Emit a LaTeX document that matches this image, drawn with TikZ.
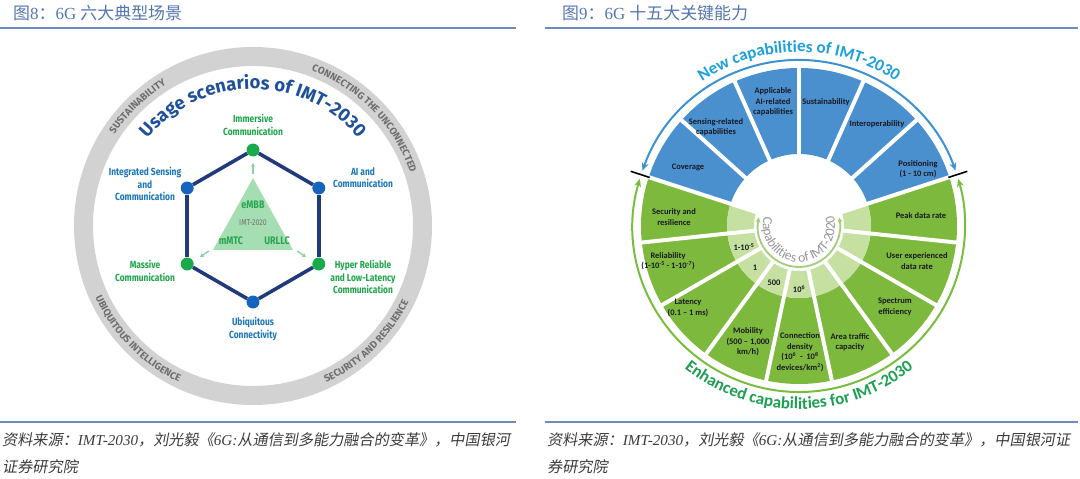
\documentclass[tikz,border=0pt]{standalone}
\usepackage{fontspec}
\setmainfont{Liberation Serif}
\newfontfamily\cjk{Noto Sans CJK SC}
\newfontfamily\cjkit{Noto Sans CJK SC}[FakeSlant=0.18]
\newfontfamily\calib{Carlito}
\newfontfamily\fira{Fira Sans}
\newfontfamily\firac{Fira Sans}[FakeStretch=0.82]
\usetikzlibrary{decorations.text,arrows.meta}
\definecolor{hdr}{RGB}{84,118,176}
\definecolor{rulec}{RGB}{110,138,190}
\definecolor{capc}{RGB}{60,60,60}
\definecolor{ringg}{RGB}{210,210,210}
\definecolor{ringt}{RGB}{110,110,110}
\definecolor{ttlblue}{RGB}{30,80,155}
\definecolor{lblue}{RGB}{27,117,188}
\definecolor{lgreen}{RGB}{30,165,75}
\definecolor{hexc}{RGB}{33,58,122}
\definecolor{dotg}{RGB}{25,170,75}
\definecolor{dotb}{RGB}{22,100,190}
\definecolor{trif}{RGB}{165,222,178}
\definecolor{trit}{RGB}{40,165,80}
\definecolor{triarr}{RGB}{140,210,160}
\definecolor{segb}{RGB}{74,144,206}
\definecolor{segg}{RGB}{125,185,60}
\definecolor{segl}{RGB}{197,224,160}
\definecolor{arcb}{RGB}{60,145,210}
\definecolor{arcg}{RGB}{120,190,60}
\definecolor{newc}{RGB}{28,160,222}
\definecolor{enhc}{RGB}{28,160,80}
\definecolor{innarc}{RGB}{165,205,120}
\definecolor{inntxt}{RGB}{150,150,150}
\definecolor{segtxt}{RGB}{25,25,35}
\newcommand\ringfnt{\fira\bfseries\fontsize{10}{12}\selectfont}
\newcommand\ttlfnt{\fira\bfseries\fontsize{18.5}{20}\selectfont}
\newcommand\bigarcfnt{\calib\bfseries\fontsize{17}{19}\selectfont}
\newcommand\innfnt{\calib\fontsize{13.5}{15}\selectfont}
\tikzset{
  hdrtxt/.style={font=\fontsize{17}{19}\selectfont, text=hdr, inner sep=0, anchor=west},
  captxt/.style={font=\fontsize{15.2}{17}\selectfont, text=capc, inner sep=0, anchor=west},
  rulel/.style={rulec, line width=2},
  lbl/.style={font=\firac\bfseries\fontsize{10.3}{12.2}\selectfont, align=center, inner sep=0},
  tritxt/.style={font=\firac\bfseries\fontsize{11}{12}\selectfont, text=trit, inner sep=0},
  seglbl/.style={font=\calib\bfseries\fontsize{8.5}{10.5}\selectfont, text=segtxt, align=center, inner sep=0},
  dotnode/.style={circle, minimum size=13, inner sep=0},
  hexline/.style={hexc, line width=3.6},
  triarrow/.style={triarr, line width=1.4, -{Triangle[length=3.5,width=4]}},
}
\begin{document}
\begin{tikzpicture}[x=1bp,y=1bp]
\fill[white] (0,0) rectangle (1080,479);
\useasboundingbox (0,0) rectangle (1080,479);
% headers and rules
\node[hdrtxt] (h1) at (13,466) {{\cjk 图}8{\cjk ：}6G {\cjk 六大典型场景}};
\node[hdrtxt] (h2) at (562,466) {{\cjk 图}9{\cjk ：}6G {\cjk 十五大关键能力}};
\draw[rulel] (0,451) -- (516,451);
\draw[rulel] (545,451) -- (1078,451);
\draw[rulel] (0,57) -- (516,57);
\draw[rulel] (545,57) -- (1078,57);
\node[captxt] (c1) at (2,39) {{\cjkit 资料来源：}{\itshape IMT-2030}{\cjkit ，刘光毅《}{\itshape 6G:}{\cjkit 从通信到多能力融合的变革》，中国银河}};
\node[captxt] (c2) at (2,12) {{\cjkit 证券研究院}};
\node[captxt] (c3) at (547,39) {{\cjkit 资料来源：}{\itshape IMT-2030}{\cjkit ，刘光毅《}{\itshape 6G:}{\cjkit 从通信到多能力融合的变革》，中国银河证}};
\node[captxt] (c4) at (547,12) {{\cjkit 券研究院}};

% ===== left diagram =====
\coordinate (L) at (253,253);
\fill[ringg, even odd rule] (L) circle[radius=179] (L) circle[radius=160];
\path[decorate, decoration={text along path, text={|\ringfnt|SUSTAINABILITY}, text align=center, text color=ringt}]
  ([shift={(162:166)}]L) arc[start angle=162, end angle=106, radius=166];
\path[decorate, decoration={text along path, text={|\ringfnt|CONNECTING THE UNCONNECTED}, text align=center, text color=ringt}]
  ([shift={(84:166)}]L) arc[start angle=84, end angle=4, radius=166];
\path[decorate, decoration={text along path, text={|\ringfnt|UBIQUITOUS INTELLIGENCE}, text align=center, text color=ringt}]
  ([shift={(186:173)}]L) arc[start angle=186, end angle=263, radius=173];
\path[decorate, decoration={text along path, text={|\ringfnt|SECURITY AND RESILIENCE}, text align=center, text color=ringt}]
  ([shift={(276:173)}]L) arc[start angle=276, end angle=353, radius=173];
\path[decorate, decoration={text along path, text={|\ttlfnt|Usage scenarios of IMT-2030}, text align=center, text color=ttlblue}]
  ([shift={(150:137)}]L) arc[start angle=150, end angle=30, radius=137];

% triangle
\coordinate (ta) at (253,301);
\coordinate (tb) at (213,229);
\coordinate (tc) at (293,229);
\fill[trif] (ta) -- (tb) -- (tc) -- cycle;
\node[tritxt] (embb) at (253,274) {eMBB};
\node[font=\firac\fontsize{8.5}{10}\selectfont, text=black!55, inner sep=0] (imt20) at (253,256) {IMT-2020};
\node[tritxt] (mmtc) at (231,238) {mMTC};
\node[tritxt] (urllc) at (277,238) {URLLC};
\coordinate (au1) at (253,305); \coordinate (au2) at (253,316);
\coordinate (al1) at (209,228); \coordinate (al2) at (200,222);
\coordinate (ar1) at (297,228); \coordinate (ar2) at (306,222);
\draw[triarrow] (au1) -- (au2);
\draw[triarrow] (al1) -- (al2);
\draw[triarrow] (ar1) -- (ar2);

% hexagon
\node[dotnode, fill=dotg] (nt) at ([shift={(90:76)}]L) {};
\node[dotnode, fill=dotb] (nul) at ([shift={(150:76)}]L) {};
\node[dotnode, fill=dotg] (nll) at ([shift={(210:76)}]L) {};
\node[dotnode, fill=dotb] (nb) at ([shift={(270:76)}]L) {};
\node[dotnode, fill=dotg] (nlr) at ([shift={(330:76)}]L) {};
\node[dotnode, fill=dotb] (nur) at ([shift={(30:76)}]L) {};
\draw[hexline] (nt) -- (nul);
\draw[hexline] (nul) -- (nll);
\draw[hexline] (nll) -- (nb);
\draw[hexline] (nb) -- (nlr);
\draw[hexline] (nlr) -- (nur);
\draw[hexline] (nur) -- (nt);

\node[lbl, text=lgreen] (limm) at (253,354) {Immersive\\Communication};
\node[lbl, text=lblue] (lisc) at (145,295) {Integrated Sensing\\and\\Communication};
\node[lbl, text=lblue] (lai) at (363,301) {AI and\\Communication};
\node[lbl, text=lgreen] (lmas) at (145,208) {Massive\\Communication};
\node[lbl, text=lgreen] (lhrl) at (363,202) {Hyper Reliable\\and Low-Latency\\Communication};
\node[lbl, text=lblue] (lubi) at (253,150) {Ubiquitous\\Connectivity};

% ===== right wheel =====
\coordinate (W) at (799,253);
\foreach \k in {0,...,8}{
  \pgfmathsetmacro\a{162+24*\k}
  \pgfmathsetmacro\b{\a+24}
  \fill[segg] ([shift={(\a:72)}]W) arc[start angle=\a, end angle=\b, radius=72]
     -- ([shift={(\b:158)}]W) arc[start angle=\b, end angle=\a, radius=158] -- cycle;
  \fill[segl] ([shift={(\a:45)}]W) arc[start angle=\a, end angle=\b, radius=45]
     -- ([shift={(\b:72)}]W) arc[start angle=\b, end angle=\a, radius=72] -- cycle;
}
\foreach \k in {0,...,5}{
  \pgfmathsetmacro\a{18+24*\k}
  \pgfmathsetmacro\b{\a+24}
  \fill[segb] ([shift={(\a:72)}]W) arc[start angle=\a, end angle=\b, radius=72]
     -- ([shift={(\b:158)}]W) arc[start angle=\b, end angle=\a, radius=158] -- cycle;
}
\foreach \k in {0,...,14}{
  \pgfmathsetmacro\a{18+24*\k}
  \draw[white, line width=4] ([shift={(\a:43)}]W) -- ([shift={(\a:161)}]W);
}
% arrow arcs
\draw[arcb, line width=2, {Stealth[length=8,width=7]}-{Stealth[length=8,width=7]}]
  ([shift={(160.5:166)}]W) arc[start angle=160.5, end angle=19.5, radius=166];
\draw[arcg, line width=2, {Stealth[length=8,width=7]}-{Stealth[length=8,width=7]}]
  ([shift={(163.5:166)}]W) arc[start angle=163.5, end angle=376.5, radius=166];
\draw[black, line width=1.6] ([shift={(162:157)}]W) -- ([shift={(162:177)}]W);
\draw[black, line width=1.6] ([shift={(18:157)}]W) -- ([shift={(18:177)}]W);
\draw[innarc, line width=1.8, {Stealth[length=5,width=5]}-{Stealth[length=5,width=5]}]
  ([shift={(168:41)}]W) arc[start angle=168, end angle=372, radius=41];

\path[decorate, decoration={text along path, text={|\bigarcfnt|New capabilities of IMT-2030}, text align=center, text color=newc}]
  ([shift={(160:174)}]W) arc[start angle=160, end angle=20, radius=174];
\path[decorate, decoration={text along path, text={|\bigarcfnt|Enhanced capabilities for IMT-2030}, text align=center, text color=enhc}]
  ([shift={(200:183)}]W) arc[start angle=200, end angle=340, radius=183];
\path[decorate, decoration={text along path, text={|\innfnt|Capabilities of IMT-2020}, text align=center, text color=inntxt}]
  ([shift={(155:36)}]W) arc[start angle=155, end angle=385, radius=36];

% blue labels
\node[seglbl] (s1) at (688,312) {Coverage};
\node[seglbl] (s2) at (716,352) {Sensing-related\\capabilities};
\node[seglbl] (s3) at (773,377) {Applicable\\AI-related\\capabilities};
\node[seglbl] (s4) at (826,377) {Sustainability};
\node[seglbl] (s5) at (877,355) {Interoperability};
\node[seglbl] (s6) at (918,310) {Positioning\\(1 - 10 cm)};
% green labels
\node[seglbl] (g1) at (674,262) {Security and\\resilience};
\node[seglbl] (g2) at (668,218) {Reliability\\(1-10\textsuperscript{-5} - 1-10\textsuperscript{-7})};
\node[seglbl] (g3) at (688,171) {Latency\\(0.1 – 1 ms)};
\node[seglbl] (g4) at (748,137) {Mobility\\(500 – 1,000\\km/h)};
\node[seglbl] (g5) at (800,127) {Connection\\density\\(10\textsuperscript{6} \ - \ 10\textsuperscript{8}\\devices/km\textsuperscript{2})};
\node[seglbl] (g6) at (850,137) {Area traffic\\capacity};
\node[seglbl] (g7) at (895,172) {Spectrum\\efficiency};
\node[seglbl] (g8) at (917,218) {User experienced\\data rate};
\node[seglbl] (g9) at (921,263) {Peak data rate};
% inner values
\node[seglbl] (i1) at (744,232) {1-10\textsuperscript{-5}};
\node[seglbl] (i2) at (755,211) {1};
\node[seglbl] (i3) at (774,196) {500};
\node[seglbl] (i4) at (799,190) {10\textsuperscript{6}};
\end{tikzpicture}
\end{document}
